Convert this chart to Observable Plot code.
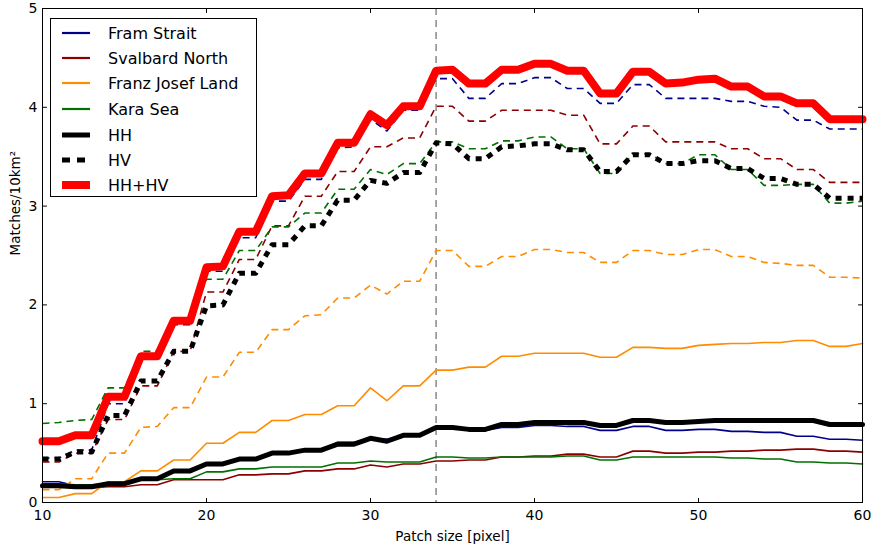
<!DOCTYPE html>
<html><head><meta charset="utf-8">
<script src="https://cdn.jsdelivr.net/npm/d3@7"></script>
<script src="https://cdn.jsdelivr.net/npm/@observablehq/plot@0.6"></script>
<style>
body{margin:0;background:#fff;font-family:"DejaVu Sans",sans-serif;}
#wrap{position:relative;width:874px;height:549px;}
#legend{position:absolute;left:50px;top:18px;width:205px;height:177px;border:1px solid #000;background:#fff;box-sizing:content-box;}
.item{position:absolute;left:0;height:24px;display:flex;align-items:center;font-size:16px;color:#000;white-space:nowrap;}
.item svg{margin-left:10px;margin-right:17px;}
</style></head><body><div id="wrap"></div>
<script>
const patchSize = [10,11,12,13,14,15,16,17,18,19,20,21,22,23,24,25,26,27,28,29,30,31,32,33,34,35,36,37,38,39,40,41,42,43,44,45,46,47,48,49,50,51,52,53,54,55,56,57,58,59,60];

const framHH = [0.21,0.21,0.17,0.17,0.20,0.20,0.24,0.24,0.33,0.33,0.40,0.40,0.45,0.45,0.50,0.50,0.53,0.53,0.61,0.61,0.65,0.64,0.68,0.68,0.76,0.76,0.73,0.73,0.76,0.76,0.78,0.78,0.77,0.77,0.73,0.73,0.77,0.77,0.73,0.73,0.74,0.74,0.72,0.72,0.71,0.71,0.67,0.67,0.64,0.64,0.63];
const framHV = [0.45,0.45,0.53,0.53,1.00,1.00,1.45,1.45,1.80,1.80,2.34,2.34,2.68,2.68,3.05,3.05,3.27,3.27,3.59,3.60,3.88,3.76,3.97,3.97,4.29,4.29,4.09,4.09,4.24,4.24,4.30,4.30,4.19,4.19,4.04,4.04,4.23,4.23,4.09,4.09,4.09,4.09,4.06,4.06,4.01,4.00,3.87,3.87,3.78,3.78,3.78];
const svalbardHH = [0.16,0.16,0.15,0.15,0.16,0.16,0.18,0.18,0.23,0.23,0.23,0.23,0.28,0.28,0.29,0.29,0.32,0.32,0.34,0.34,0.38,0.36,0.39,0.39,0.42,0.42,0.43,0.43,0.46,0.46,0.47,0.47,0.49,0.49,0.46,0.46,0.52,0.52,0.50,0.50,0.51,0.51,0.52,0.52,0.53,0.53,0.54,0.54,0.52,0.52,0.51];
const svalbardHV = [0.41,0.41,0.50,0.50,0.84,0.84,1.18,1.18,1.53,1.53,2.13,2.13,2.46,2.46,2.80,2.80,3.10,3.10,3.35,3.35,3.60,3.60,3.69,3.69,4.01,4.01,3.86,3.86,3.97,3.97,3.97,3.97,3.92,3.92,3.63,3.63,3.81,3.81,3.65,3.65,3.65,3.65,3.58,3.58,3.48,3.48,3.37,3.37,3.24,3.24,3.24];
const franzHH = [0.05,0.05,0.09,0.09,0.21,0.21,0.32,0.32,0.43,0.43,0.60,0.60,0.71,0.71,0.83,0.83,0.89,0.89,0.98,0.98,1.16,1.03,1.18,1.18,1.34,1.34,1.37,1.37,1.48,1.48,1.51,1.51,1.51,1.51,1.47,1.47,1.57,1.57,1.56,1.56,1.59,1.60,1.61,1.61,1.62,1.62,1.64,1.64,1.58,1.58,1.61];
const franzHV = [0.13,0.13,0.24,0.24,0.50,0.50,0.76,0.77,0.96,0.96,1.27,1.27,1.52,1.52,1.75,1.75,1.89,1.90,2.07,2.07,2.20,2.11,2.24,2.24,2.55,2.55,2.39,2.39,2.49,2.49,2.56,2.56,2.53,2.53,2.43,2.43,2.55,2.55,2.51,2.51,2.56,2.56,2.49,2.49,2.43,2.42,2.40,2.40,2.28,2.28,2.27];
const karaHH = [0.19,0.19,0.18,0.18,0.19,0.19,0.23,0.23,0.24,0.24,0.31,0.31,0.34,0.34,0.36,0.36,0.36,0.36,0.40,0.40,0.42,0.41,0.41,0.41,0.46,0.46,0.45,0.45,0.46,0.46,0.46,0.46,0.47,0.47,0.43,0.43,0.46,0.46,0.46,0.46,0.46,0.46,0.45,0.45,0.44,0.44,0.41,0.41,0.40,0.40,0.39];
const karaHV = [0.80,0.81,0.83,0.84,1.16,1.16,1.53,1.53,1.83,1.83,2.26,2.26,2.55,2.55,2.79,2.79,2.93,2.93,3.17,3.17,3.37,3.32,3.43,3.43,3.65,3.65,3.58,3.58,3.66,3.66,3.70,3.70,3.58,3.58,3.33,3.33,3.53,3.53,3.43,3.43,3.52,3.52,3.37,3.37,3.21,3.21,3.22,3.22,3.03,3.03,3.05];
const allHH = [0.17,0.17,0.16,0.16,0.19,0.19,0.24,0.24,0.32,0.32,0.39,0.39,0.44,0.44,0.50,0.50,0.53,0.53,0.59,0.59,0.65,0.62,0.68,0.68,0.76,0.76,0.74,0.74,0.79,0.79,0.81,0.81,0.81,0.81,0.78,0.78,0.83,0.83,0.81,0.81,0.82,0.83,0.83,0.83,0.83,0.83,0.83,0.83,0.79,0.79,0.79];
const allHV = [0.44,0.44,0.51,0.51,0.88,0.88,1.23,1.23,1.53,1.53,1.99,2.00,2.32,2.32,2.61,2.61,2.80,2.80,3.06,3.06,3.26,3.23,3.34,3.34,3.64,3.63,3.48,3.48,3.60,3.61,3.63,3.63,3.57,3.57,3.35,3.35,3.52,3.52,3.43,3.43,3.46,3.46,3.38,3.38,3.28,3.28,3.22,3.22,3.08,3.08,3.08];
const allHHHV = [0.62,0.62,0.68,0.68,1.07,1.07,1.48,1.48,1.84,1.84,2.38,2.39,2.74,2.74,3.10,3.11,3.33,3.33,3.64,3.64,3.93,3.82,4.01,4.01,4.37,4.38,4.24,4.24,4.38,4.38,4.44,4.44,4.37,4.37,4.14,4.14,4.36,4.36,4.24,4.25,4.28,4.29,4.21,4.21,4.11,4.11,4.04,4.04,3.88,3.88,3.88];

const xTicks = [10,20,30,40,50,60];
const yTicks = [0,1,2,3,4,5];
const markerX = [34];
const regionNames = ["Fram Strait","Svalbard North","Franz Josef Land","Kara Sea"];
const regionColors = ["#00008b","#8b0000","#ff8c00","#007000"];
const xLabel = "Patch size [pixel]";
const yLabel = "Matches/10km\u00b2";

const series = [
  {v: framHH, stroke: regionColors[0], w: 1.6, dash: null},
  {v: svalbardHH, stroke: regionColors[1], w: 1.6, dash: null},
  {v: franzHH, stroke: regionColors[2], w: 1.6, dash: null},
  {v: karaHH, stroke: regionColors[3], w: 1.6, dash: null},
  {v: framHV, stroke: regionColors[0], w: 1.6, dash: "7,5"},
  {v: svalbardHV, stroke: regionColors[1], w: 1.6, dash: "7,5"},
  {v: franzHV, stroke: regionColors[2], w: 1.6, dash: "7,5"},
  {v: karaHV, stroke: regionColors[3], w: 1.6, dash: "7,5"},
  {v: allHH, stroke: "#000", w: 5, dash: null},
  {v: allHV, stroke: "#000", w: 5, dash: "6,6"},
  {v: allHHHV, stroke: "#ff0000", w: 8, dash: null}
];

const lineMarks = series.map(s => Plot.line(patchSize.map((x, i) => ({x, y: s.v[i]})), {
  x: "x", y: "y", stroke: s.stroke, strokeWidth: s.w,
  strokeDasharray: s.dash, strokeLinecap: s.dash ? "butt" : "round", strokeLinejoin: "round"
}));

const tickShape = {draw(ctx, l) { ctx.moveTo(0, 0); ctx.lineTo(0, -l); }};
const tickOpts = {length: 4, anchor: "start", shape: tickShape, stroke: "#000", strokeWidth: 1};
const intFmt = d3.format("d");

const chart = Plot.plot({
  width: 874, height: 549,
  marginLeft: 42, marginRight: 12, marginTop: 8, marginBottom: 47,
  style: {fontFamily: "DejaVu Sans", fontSize: "14px", background: "#fff", color: "#000"},
  x: {domain: [10, 60], label: null},
  y: {domain: [0, 5], label: null},
  marks: [
    Plot.ruleX(markerX, {stroke: "#8a8a8a", strokeWidth: 1.5, strokeDasharray: "7,5"}),
    ...lineMarks,
    Plot.frame({stroke: "#000", strokeWidth: 1}),
    Plot.axisX(xTicks, {anchor: "bottom", tickSize: 0, tickPadding: 8, fontSize: 14, tickFormat: intFmt, label: null}),
    Plot.axisY(yTicks, {anchor: "left", tickSize: 0, tickPadding: 5, fontSize: 14, tickFormat: intFmt, label: null}),
    Plot.vector(xTicks, {x: d => d, frameAnchor: "bottom", rotate: 0, ...tickOpts}),
    Plot.vector(xTicks, {x: d => d, frameAnchor: "top", rotate: 180, ...tickOpts}),
    Plot.vector(yTicks, {y: d => d, frameAnchor: "left", rotate: 90, ...tickOpts}),
    Plot.vector(yTicks, {y: d => d, frameAnchor: "right", rotate: -90, ...tickOpts}),
    Plot.text([xLabel], {frameAnchor: "bottom", dy: 38, fontSize: 13.5}),
    Plot.text([yLabel], {frameAnchor: "left", dx: -27, rotate: -90, fontSize: 13.5})
  ]
});

const wrap = document.getElementById("wrap");
wrap.appendChild(chart);

// legend
const legendItems = [
  {name: regionNames[0], stroke: regionColors[0], w: 2.2, dash: null},
  {name: regionNames[1], stroke: regionColors[1], w: 2.2, dash: null},
  {name: regionNames[2], stroke: regionColors[2], w: 2.2, dash: null},
  {name: regionNames[3], stroke: regionColors[3], w: 2.2, dash: null},
  {name: "HH", stroke: "#000", w: 5, dash: null},
  {name: "HV", stroke: "#000", w: 5, dash: "8,7"},
  {name: "HH+HV", stroke: "#ff0000", w: 8, dash: null}
];
const legend = document.createElement("div");
legend.id = "legend";
const rowY = [14, 39, 64, 90, 116, 141, 166];
legendItems.forEach((it, i) => {
  const row = document.createElement("div");
  row.className = "item";
  row.style.top = (rowY[i] - 12) + "px";
  row.innerHTML = `<svg width="30" height="12"><line x1="1" x2="29" y1="6" y2="6" stroke="${it.stroke}" stroke-width="${it.w}" ${it.dash ? `stroke-dasharray="${it.dash}"` : ""}/></svg><span>${it.name}</span>`;
  legend.appendChild(row);
});
wrap.appendChild(legend);
</script>
</body></html>
